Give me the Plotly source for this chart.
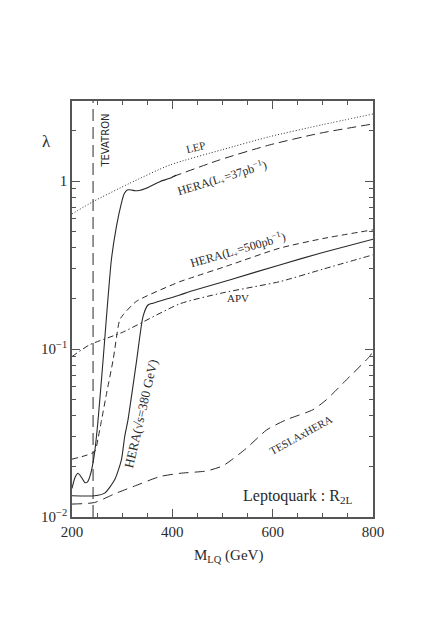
import plotly.graph_objects as go

# values (mass in GeV, lambda)
lep_m = [200, 242, 315, 395, 500, 594, 700, 800]
lep_l = [0.638, 0.755, 0.971, 1.248, 1.54, 1.84, 2.17, 2.51]

hera37_solid_m = [200, 206, 212, 219, 226, 231, 237, 245, 252, 262, 278.5, 288.5,
                  298.5, 304, 310, 318, 326, 334, 348, 375, 395, 408]
hera37_solid_l = [0.0148, 0.0172, 0.0182, 0.0172, 0.0160, 0.0162, 0.0180, 0.0241,
                  0.0379, 0.0863, 0.34, 0.536, 0.739, 0.84, 0.885, 0.886, 0.876,
                  0.88, 0.907, 0.993, 1.04, 1.089]

hera37_dash_m = [400, 494, 594, 694, 800]
hera37_dash_l = [1.06, 1.337, 1.643, 1.928, 2.19]

hera500_m = [200, 245, 252, 259, 269, 282, 295, 302, 328, 415, 435, 514, 614, 700, 800]
hera500_l = [0.0221, 0.0245, 0.0295, 0.0379, 0.0546, 0.0863, 0.149, 0.160, 0.192,
             0.252, 0.264, 0.316, 0.399, 0.455, 0.513]

hera380_m = [200, 245, 265, 285, 298.5, 305, 311.6, 329, 341.5, 351.5, 361.5, 415,
             435, 514, 614, 700, 800]
hera380_l = [0.01337, 0.01337, 0.01387, 0.01664, 0.0219, 0.0301, 0.0379, 0.0863,
             0.156, 0.183, 0.1876, 0.210, 0.22, 0.258, 0.317, 0.376, 0.451]

apv_m = [200, 235, 300, 415, 500, 614, 700, 800]
apv_l = [0.0902, 0.106, 0.1256, 0.186, 0.216, 0.252, 0.299, 0.364]

tesla_m = [200, 245, 285, 331.5, 375, 415, 468, 501, 548, 588, 627, 680, 707, 747, 793, 800]
tesla_l = [0.01194, 0.0122, 0.01374, 0.01556, 0.0174, 0.0182, 0.0188, 0.0202, 0.0257,
           0.033, 0.0379, 0.0435, 0.0499, 0.0656, 0.0902, 0.097]

tevatron_m = 242
y_lo, y_hi = 0.01, 3.0

y_ticks = [0.01, 0.1, 1]
y_ticktext = ["10<sup>\u22122</sup>", "10<sup>\u22121</sup>", "1"]
y_minor = [k * 10 ** e for e in (-2, -1, 0) for k in range(2, 10) if k * 10 ** e < y_hi]
x_ticks = [200, 400, 600, 800]

ink = "#2a2a2a"
serif = "Liberation Serif, Times New Roman, serif"

fig = go.Figure()


def add_line(x, y, dash, width=1.0, shape="spline"):
    fig.add_trace(go.Scatter(x=x, y=y, mode="lines", showlegend=False, hoverinfo="skip",
                             line=dict(color=ink, width=width, dash=dash, shape=shape,
                                       smoothing=0.6)))


add_line([tevatron_m, tevatron_m], [y_lo, y_hi], "12px,6px", shape="linear")
add_line(lep_m, lep_l, "1px,2px")
add_line(hera37_solid_m, hera37_solid_l, "solid", 1.1)
add_line(hera37_dash_m, hera37_dash_l, "9px,5px")
add_line(hera500_m, hera500_l, "6px,4px")
add_line(hera380_m, hera380_l, "solid", 1.1)
add_line(apv_m, apv_l, "6px,3px,1.5px,3px")
add_line(tesla_m, tesla_l, "10px,6px")

labels = [
    ("TEVATRON", 267, 0.239, -90, 10, "DejaVu Sans, sans-serif"),
    ("LEP", 447, 0.204, -14, 11, serif),
    ("HERA(L<sub>+</sub>=37pb<sup>\u22121</sup>)", 499, 0.016, -17, 12, serif),
    ("HERA(L<sub>+</sub>=500pb<sup>\u22121</sup>)", 530, -0.415, -16, 12, serif),
    ("APV", 530, -0.695, 0, 11, serif),
    ("HERA(\u221as=380 GeV)", 338, -1.386, -77, 13, serif),
    ("TESLAxHERA", 656, -1.511, -29, 11, serif),
    ("Leptoquark : R<sub>2L</sub>", 650, -1.88, 0, 16, serif),
]
for text, x, y, ang, size, fam in labels:
    fig.add_annotation(x=x, y=y, xref="x", yref="y", text=text, showarrow=False,
                       textangle=ang, xanchor="center", yanchor="middle",
                       font=dict(family=fam, size=size, color=ink))

fig.add_annotation(x=-0.084, y=0.902, xref="paper", yref="paper", text="\u03bb",
                   showarrow=False, xanchor="center", yanchor="middle",
                   font=dict(family=serif, size=17, color=ink))
fig.add_annotation(x=0.52, y=-0.094, xref="paper", yref="paper",
                   text="M<sub>LQ</sub> (GeV)", showarrow=False,
                   xanchor="center", yanchor="middle",
                   font=dict(family=serif, size=15, color=ink))

axis_common = dict(showline=True, linecolor="#555", linewidth=1.6, mirror="ticks",
                   ticks="inside", tickcolor="#555", tickwidth=1, ticklen=8,
                   showgrid=False, zeroline=False,
                   tickfont=dict(family=serif, size=15, color=ink))

fig.update_xaxes(range=[200, 800], tickmode="array", tickvals=x_ticks,
                 minor=dict(ticks="inside", ticklen=4, tickcolor="#555", dtick=50,
                            tick0=200, showgrid=False),
                 **axis_common)
fig.update_yaxes(type="log", range=[-2, 0.4771], tickmode="array", tickvals=y_ticks,
                 ticktext=y_ticktext,
                 minor=dict(ticks="inside", ticklen=4, tickcolor="#555",
                            tickmode="array", tickvals=y_minor, showgrid=False),
                 **axis_common)

# page body adds an 8px offset, so the figure is trimmed by that much
fig.update_layout(width=428, height=614, margin=dict(l=64, r=63, t=93, b=105),
                  plot_bgcolor="white", paper_bgcolor="white", showlegend=False)

fig.write_html("out.html")
